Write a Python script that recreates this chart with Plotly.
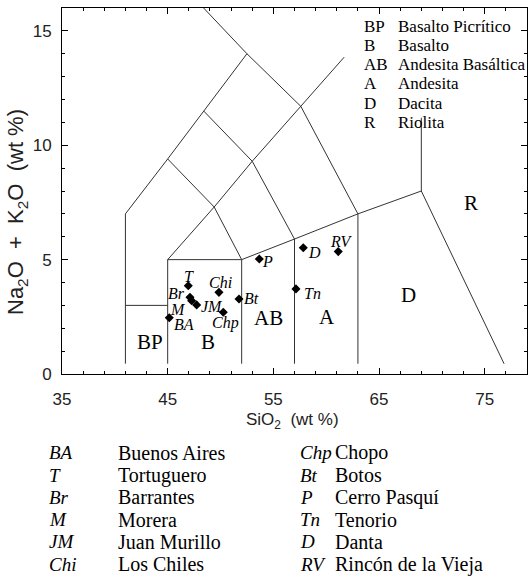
import plotly.graph_objects as go

# ---- sample data (volcanic centres) ----
codes = ["BA", "T", "Br", "M", "JM", "Chi", "Chp", "Bt", "P", "Tn", "D", "RV"]
names = ["Buenos Aires", "Tortuguero", "Barrantes", "Morera", "Juan Murillo", "Los Chiles",
         "Chopo", "Botos", "Cerro Pasquí", "Tenorio", "Danta", "Rincón de la Vieja"]
sio2 = [45.15, 46.95, 47.11, 47.27, 47.74, 49.85, 50.26, 51.75, 53.67, 57.14, 57.83, 61.14]
alkali = [2.46, 3.86, 3.35, 3.20, 3.02, 3.57, 2.70, 3.28, 5.03, 3.72, 5.52, 5.35]

# ---- rock fields ----
field_codes = ["BP", "B", "AB", "A", "D", "R"]
field_names = ["Basalto Picrítico", "Basalto", "Andesita Basáltica", "Andesita", "Dacita", "Riolita"]
field_x = [43.3, 48.84, 54.52, 60.1, 67.76, 73.67]
field_y = [1.41, 1.41, 2.43, 2.48, 3.45, 7.46]

# ---- TAS boundaries (SiO2, Na2O+K2O) ----
boundaries = [
    [(41, 0.45), (41, 7), (45, 9.4), (48.4, 11.5), (52.5, 14)],
    [(48.4, 16), (52.5, 14), (57.6, 11.7), (63, 7)],
    [(41, 3), (45, 3)],
    [(45, 0.45), (45, 5), (52, 5)],
    [(52, 0.45), (52, 5), (57, 5.9), (63, 7), (69, 8), (76.83, 0.45)],
    [(57, 0.45), (57, 5.9)],
    [(63, 0.45), (63, 7)],
    [(69, 8), (69, 11.2)],
    [(45, 9.4), (49.4, 7.3), (52, 5)],
    [(45, 5), (49.4, 7.3), (53, 9.3), (57.6, 11.7), (61.7, 13.85)],
    [(48.4, 11.5), (53, 9.3), (57, 5.9)],
]

# label placement style (anchor, xshift, yshift) per code
label_style = {
    "BA": ("left", 3, -7), "T": ("center", 1, 9), "Br": ("right", -3, 4),
    "M": ("right", -4, -9), "JM": ("left", 2, -2), "Chi": ("center", 2, 10),
    "Chp": ("center", 2, -11), "Bt": ("left", 3, 0), "P": ("left", 1, -3),
    "Tn": ("left", 6, -5), "D": ("left", 3, -5), "RV": ("center", 3, 10),
}

LINE = "#333333"
SERIF = "Liberation Serif"
SANS = "Liberation Sans"

fig = go.Figure()

bx, by = [], []
for seg in boundaries:
    for (x, y) in seg:
        bx.append(x)
        by.append(y)
    bx.append(None)
    by.append(None)
fig.add_trace(go.Scatter(x=bx, y=by, mode="lines", line=dict(color=LINE, width=1),
                         hoverinfo="skip", showlegend=False))

fig.add_trace(go.Scatter(x=sio2, y=alkali, mode="markers",
                         marker=dict(symbol="diamond", size=7, color="black"),
                         text=names, showlegend=False))

ann = []
for c, x, y in zip(codes, sio2, alkali):
    anc, xs, ys = label_style[c]
    ann.append(dict(x=x, y=y, xref="x", yref="y", text=f"<i>{c}</i>", showarrow=False,
                    xanchor=anc, yanchor="middle", xshift=xs, yshift=ys,
                    font=dict(family=SERIF, size=16, color="black")))

for c, x, y in zip(field_codes, field_x, field_y):
    ann.append(dict(x=x, y=y, xref="x", yref="y", text=c, showarrow=False,
                    xanchor="center", yanchor="middle",
                    font=dict(family=SERIF, size=21, color="black")))

# plot area in pixels: left 62, right 527, top 8, bottom 374
PL, PR, PT, PB = 62, 527, 8, 374
def px(xp):
    return (xp - PL) / (PR - PL)
def py(yp):
    return (PB - yp) / (PB - PT)

# top-right legend
for i, (c, n) in enumerate(zip(field_codes, field_names)):
    yc = py(26 + 19.3 * i)
    ann.append(dict(x=px(362), y=yc, xref="paper", yref="paper", text=c, showarrow=False,
                    xanchor="left", yanchor="middle",
                    font=dict(family=SERIF, size=17, color="black")))
    ann.append(dict(x=px(396), y=yc, xref="paper", yref="paper", text=n, showarrow=False,
                    xanchor="left", yanchor="middle",
                    font=dict(family=SERIF, size=17, color="black")))

# bottom legend (two columns)
half = len(codes) // 2
for i, (c, n) in enumerate(zip(codes, names)):
    col = i // half
    row = i % half
    yc = py(453 + 22.2 * row)
    xa = px(47) if col == 0 else px(298)
    xn = px(116) if col == 0 else px(333)
    ann.append(dict(x=xa, y=yc, xref="paper", yref="paper", text=f"<i>{c}</i>", showarrow=False,
                    xanchor="left", yanchor="middle",
                    font=dict(family=SERIF, size=19, color="black")))
    ann.append(dict(x=xn, y=yc, xref="paper", yref="paper", text=n, showarrow=False,
                    xanchor="left", yanchor="middle",
                    font=dict(family=SERIF, size=20, color="black")))

# axis titles
ann.append(dict(x=px(292), y=py(421), xref="paper", yref="paper",
                text="SiO<sub>2</sub>  (wt %)", showarrow=False, xanchor="center", yanchor="middle",
                font=dict(family=SANS, size=17, color="#222")))
ann.append(dict(x=px(17), y=py(212), xref="paper", yref="paper", textangle=-90,
                text="Na<sub>2</sub>O  +  K<sub>2</sub>O  (wt %)", showarrow=False,
                xanchor="center", yanchor="middle",
                font=dict(family=SANS, size=22, color="#222")))

axis_common = dict(showgrid=False, zeroline=False, showline=True, linecolor="black", linewidth=1,
                   ticks="inside", ticklen=6, tickcolor="black", mirror="allticks",
                   tickfont=dict(family=SANS, size=17, color="#222"))

fig.update_xaxes(range=[35, 79], tick0=35, dtick=10, ticklabelstandoff=10,
                 minor=dict(tick0=35, dtick=2, ticklen=3, ticks="inside", tickcolor="black"),
                 **axis_common)
fig.update_yaxes(range=[0, 16], tick0=0, dtick=5, ticklabelstandoff=6,
                 minor=dict(tick0=0, dtick=1, ticklen=3, ticks="inside", tickcolor="black"),
                 **axis_common)

fig.update_layout(width=530, height=583, margin=dict(l=PL, r=530 - PR, t=PT, b=583 - PB),
                  plot_bgcolor="white", paper_bgcolor="white", annotations=ann,
                  showlegend=False)

fig.write_html("out.html")
